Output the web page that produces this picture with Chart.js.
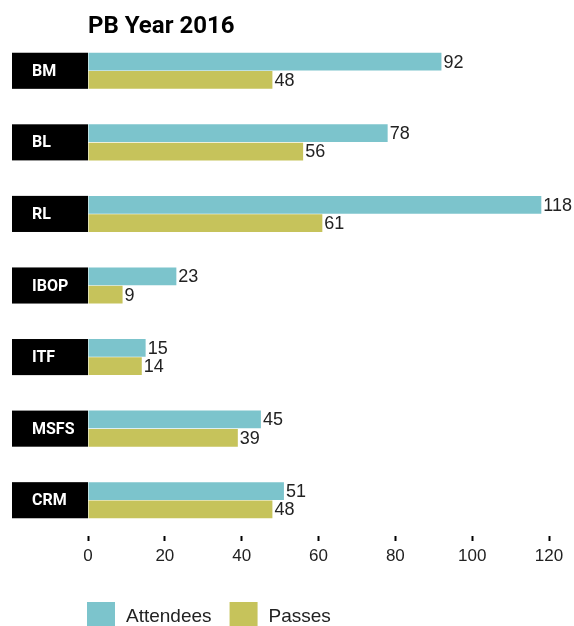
<!DOCTYPE html>
<html lang="en">
<head>
    <meta charset="UTF-8">
    <title>PB Year 2016</title>
    <script src="https://cdn.jsdelivr.net/npm/chart.js"></script>
    <style>
        body { margin: 0; background: #fff; }
    </style>
</head>
<body>
    <canvas id="pbChart" width="574" height="626"></canvas>
    <script>
        const categories = ['BM', 'BL', 'RL', 'IBOP', 'ITF', 'MSFS', 'CRM'];
        const attendees = [92, 78, 118, 23, 15, 45, 51];
        const passes = [48, 56, 61, 9, 14, 39, 48];
        const axisMin = 0;
        const axisMax = 120;
        const axisStep = 20;

        const tealColor = '#7cc4cc';
        const oliveColor = '#c6c35b';
        const textFont = "'Liberation Sans', Arial, sans-serif";
        const boldFont = "Roboto, sans-serif";

        // black label boxes on the left, value labels at bar ends, legend at the bottom
        const extras = {
            id: 'extras',
            beforeDatasetsDraw(chart) {
                const ctx = chart.ctx;
                const top = chart.getDatasetMeta(0).data;
                const bottom = chart.getDatasetMeta(1).data;
                ctx.save();
                categories.forEach((cat, i) => {
                    const y0 = top[i].y - top[i].height / 2;
                    const y1 = bottom[i].y + bottom[i].height / 2;
                    ctx.fillStyle = '#000';
                    ctx.fillRect(12, y0, chart.chartArea.left - 12, y1 - y0);
                    ctx.fillStyle = '#fff';
                    ctx.font = 'bold 16px ' + boldFont;
                    ctx.textAlign = 'left';
                    ctx.textBaseline = 'middle';
                    ctx.fillText(cat, 32, (y0 + y1) / 2 + 1);
                });
                ctx.restore();
            },
            afterDatasetsDraw(chart) {
                const ctx = chart.ctx;
                ctx.save();
                ctx.font = '18px ' + textFont;
                ctx.fillStyle = '#222';
                ctx.textAlign = 'left';
                ctx.textBaseline = 'middle';
                chart.data.datasets.forEach((ds, d) => {
                    chart.getDatasetMeta(d).data.forEach((bar, i) => {
                        ctx.fillText(ds.data[i], bar.x + 2, bar.y + 1);
                    });
                });

                // legend
                let x = chart.chartArea.left - 1;
                const y = 602;
                ctx.font = '19px ' + textFont;
                chart.data.datasets.forEach(ds => {
                    ctx.fillStyle = ds.backgroundColor;
                    ctx.fillRect(x, y, 28, 28);
                    x += 28 + 11;
                    ctx.fillStyle = '#222';
                    ctx.fillText(ds.label, x, y + 15);
                    x += ctx.measureText(ds.label).width + 18;
                });
                ctx.restore();
            }
        };

        new Chart(document.getElementById('pbChart'), {
            type: 'bar',
            data: {
                labels: categories,
                datasets: [
                    { label: 'Attendees', data: attendees, backgroundColor: tealColor },
                    { label: 'Passes', data: passes, backgroundColor: oliveColor }
                ]
            },
            options: {
                indexAxis: 'y',
                responsive: false,
                animation: false,
                categoryPercentage: 0.512,
                barPercentage: 0.97,
                layout: { padding: { left: 88, right: 25, top: 0, bottom: 54.6 } },
                scales: {
                    x: {
                        min: axisMin,
                        max: axisMax,
                        border: { display: false },
                        grid: {
                            drawOnChartArea: false,
                            drawTicks: true,
                            tickLength: 5,
                            tickWidth: 2,
                            tickColor: '#000'
                        },
                        ticks: {
                            stepSize: axisStep,
                            padding: 5,
                            color: '#222',
                            font: { family: textFont, size: 17 }
                        }
                    },
                    y: { display: false }
                },
                plugins: {
                    legend: { display: false },
                    tooltip: { enabled: false },
                    title: {
                        display: true,
                        text: 'PB Year 2016',
                        align: 'start',
                        color: '#000',
                        font: { family: boldFont, size: 24, weight: 'bold' },
                        padding: { top: 13, bottom: -6.8 }
                    }
                }
            },
            plugins: [extras]
        });
    </script>
</body>
</html>
